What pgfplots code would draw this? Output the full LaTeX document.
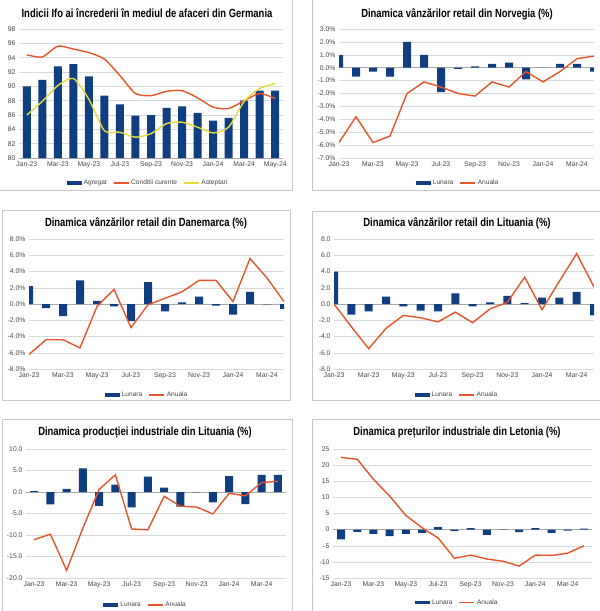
\documentclass[border=0pt]{standalone}
\usepackage{pgfplots}
\usepackage{pgfplotstable}
\usepackage{graphicx}
\usepackage{fontspec}
\setmainfont{Liberation Sans}
\pgfplotsset{compat=1.18}

\definecolor{barc}{RGB}{16,62,128}
\definecolor{orangec}{RGB}{232,84,44}
\definecolor{yellowc}{RGB}{228,220,60}
\definecolor{gridc}{RGB}{217,217,217}
\definecolor{framec}{RGB}{200,200,200}
\definecolor{tickc}{RGB}{70,70,70}
\definecolor{zeroc}{RGB}{170,170,170}

% Ifo Germania
\pgfplotstableread{
i agr cur asp
0 90.0 94.4 86.0
1 90.9 94.1 87.9
2 92.8 95.6 90.1
3 93.1 95.2 91.1
4 91.4 94.7 88.2
5 88.7 93.8 83.8
6 87.5 91.5 83.6
7 85.9 89.0 82.9
8 86.0 88.7 83.4
9 87.0 89.3 84.8
10 87.2 89.4 85.0
11 86.3 88.4 84.3
12 85.2 87.1 83.5
13 85.6 86.9 84.3
14 88.0 88.0 87.9
15 89.4 89.0 89.7
16 89.4 88.3 90.4
}\ifodata

% Norvegia
\pgfplotstableread{
i lun anu
0 1.0 -5.8
1 -0.7 -3.8
2 -0.3 -5.8
3 -0.7 -5.3
4 2.0 -2.0
5 1.0 -1.1
6 -1.9 -1.5
7 -0.1 -2.0
8 0.1 -2.2
9 0.3 -1.1
10 0.4 -1.5
11 -0.9 -0.3
12 0.0 -1.1
13 0.3 -0.3
14 0.3 0.7
15 -0.3 0.9
}\nordata

% Danemarca
\pgfplotstableread{
i lun anu
0 2.2 -6.2
1 -0.5 -4.4
2 -1.5 -4.4
3 2.9 -5.4
4 0.4 -0.3
5 -0.3 1.8
6 -2.1 -2.9
7 2.7 -0.1
8 -0.9 0.7
9 0.2 1.5
10 0.9 2.9
11 -0.2 2.9
12 -1.3 0.3
13 1.5 5.6
14 -0.05 3.2
15 -0.6 0.3
}\dandata

% Lituania retail
\pgfplotstableread{
i lun anu
0 4.0 0.0
1 -1.3 -2.8
2 -0.9 -5.5
3 0.9 -3.0
4 -0.3 -1.4
5 -0.8 -1.7
6 -0.9 -2.2
7 1.3 -1.0
8 -0.3 -2.3
9 0.2 -0.6
10 1.0 0.2
11 0.1 3.3
12 0.8 -0.7
13 0.8 2.8
14 1.5 6.2
15 -1.4 2.1
}\litrdata

% Lituania productie industriala
\pgfplotstableread{
i lun anu
0 0.2 -11.1
1 -2.9 -9.8
2 0.7 -18.2
3 5.5 -8.4
4 -3.2 0.6
5 1.7 4.0
6 -3.6 -8.6
7 3.6 -8.8
8 1.0 -1.0
9 -3.4 -3.3
10 -0.1 -3.5
11 -2.4 -5.1
12 3.7 -0.3
13 -2.8 -0.9
14 4.0 2.2
15 4.0 2.5
}\litpdata

% Letonia preturi industriale
\pgfplotstableread{
i lun anu
0 -3.0 22.4
1 -0.7 21.8
2 -1.3 15.6
3 -2.0 10.4
4 -1.3 4.4
5 -1.0 0.6
6 0.8 -2.6
7 -0.5 -8.9
8 0.5 -7.9
9 -1.6 -9.1
10 -0.1 -9.8
11 -0.8 -11.3
12 0.5 -7.9
13 -1.0 -8.0
14 -0.3 -7.3
15 0.3 -5.0
}\letdata

\pgfplotsset{
  panel/.style={
    scale only axis, anchor=south west, clip=true,
    axis line style={draw=none}, tick style={draw=none},
    ymajorgrids, grid style={draw=gridc, line width=0.5pt},
    tick label style={font=\fontsize{6.8}{8}\selectfont, text=tickc},
    /pgf/number format/assume math mode=true,
    xtick={0,2,...,14},
    xticklabels={Jan-23,Mar-23,May-23,Jul-23,Sep-23,Nov-23,Jan-24,Mar-24},
    extra y ticks={0}, extra y tick labels={},
    extra y tick style={ymajorgrids, grid style={draw=zeroc, line width=0.5pt}},
    legend columns=2,
    legend style={draw=none, fill=none, anchor=center,
      font=\fontsize{6.6}{8}\selectfont, text=tickc,
      /tikz/every even column/.append style={column sep=4pt}},
  },
  barplot/.style={ybar, bar width=8pt, fill=barc, draw=none,
    legend image code/.code={\fill[barc] (0pt,-1.6pt) rectangle (15pt,1.6pt);}},
  lineplot/.style={sharp plot, no marks, line width=1.4pt, draw=#1,
    legend image code/.code={\draw[#1, line width=1.4pt] (0pt,0pt) -- (15pt,0pt);}},
  lineplot/.default=orangec,
}

\newcommand\ptitle[3]{\node[font=\fontsize{11.8}{13}\selectfont\bfseries, text=black] at (#1,#2) {\scalebox{0.8}[1]{#3}};}

\begin{document}
\begin{tikzpicture}
\useasboundingbox (0,0) rectangle (600pt,-611pt);
\fill[white] (0,0) rectangle (600pt,-611pt);

% frames
\draw[framec, line width=0.8pt] (-2pt,2pt) rectangle (292pt,-190pt);
\draw[framec, line width=0.8pt] (312pt,2pt) rectangle (602pt,-190pt);
\draw[framec, line width=0.8pt] (2pt,-210pt) rectangle (290pt,-400pt);
\draw[framec, line width=0.8pt] (312pt,-211pt) rectangle (602pt,-400pt);
\draw[framec, line width=0.8pt] (2pt,-419pt) rectangle (292pt,-614pt);
\draw[framec, line width=0.8pt] (312pt,-419pt) rectangle (602pt,-614pt);

% 1 Germania
\ptitle{147pt}{-13pt}{Indicii Ifo ai încrederii în mediul de afaceri din Germania}
\begin{axis}[panel, at={(19pt,-158pt)}, width=264pt, height=129pt,
  xmin=-0.5, xmax=16.5, ymin=80, ymax=98, ytick={80,82,...,98},
  xtick={0,2,...,16},
  xticklabels={Jan-23,Mar-23,May-23,Jul-23,Sep-23,Nov-23,Jan-24,Mar-24,May-24},
  extra y ticks={80},
  legend columns=3, legend style={at={(0.489,-0.194)}}]
\addplot[barplot] table[x=i,y=agr] \ifodata; \addlegendentry{Agregat}
\addplot[lineplot=orangec, smooth, tension=0.4] table[x=i,y=cur] \ifodata; \addlegendentry{Conditii curente}
\addplot[lineplot=yellowc, smooth, tension=0.4] table[x=i,y=asp] \ifodata; \addlegendentry{Asteptari}
\end{axis}

% 2 Norvegia
\ptitle{457pt}{-14pt}{Dinamica vânzărilor retail din Norvegia (\%)}
\begin{axis}[panel, at={(339pt,-158pt)}, width=255pt, height=129pt,
  xmin=0, xmax=15, ymin=-7, ymax=3, ytick={-7,-6,...,3},
  yticklabel={\pgfmathprintnumber[fixed,fixed zerofill,precision=1]{\tick}\%},
  legend style={at={(0.467,-0.194)}}]
\addplot[barplot] table[x=i,y=lun] \nordata; \addlegendentry{Lunara}
\addplot[lineplot] table[x=i,y=anu] \nordata; \addlegendentry{Anuala}
\end{axis}

% 3 Danemarca
\ptitle{146pt}{-223pt}{Dinamica vânzărilor retail din Danemarca (\%)}
\begin{axis}[panel, at={(29pt,-369pt)}, width=255pt, height=130pt,
  xmin=0, xmax=15, ymin=-8, ymax=8, ytick={-8,-6,...,8},
  yticklabel={\pgfmathprintnumber[fixed,fixed zerofill,precision=1]{\tick}\%},
  legend style={at={(0.463,-0.2)}}]
\addplot[barplot] table[x=i,y=lun] \dandata; \addlegendentry{Lunara}
\addplot[lineplot] table[x=i,y=anu] \dandata; \addlegendentry{Anuala}
\end{axis}

% 4 Lituania retail
\ptitle{457pt}{-223pt}{Dinamica vânzărilor retail din Lituania (\%)}
\begin{axis}[panel, at={(334pt,-369pt)}, width=260pt, height=130pt,
  xmin=0, xmax=15, ymin=-8, ymax=8, ytick={-8,-6,...,8},
  yticklabel={\pgfmathprintnumber[fixed,fixed zerofill,precision=1]{\tick}},
  legend style={at={(0.473,-0.2)}}]
\addplot[barplot] table[x=i,y=lun] \litrdata; \addlegendentry{Lunara}
\addplot[lineplot] table[x=i,y=anu] \litrdata; \addlegendentry{Anuala}
\end{axis}

% 5 Lituania productie
\ptitle{145pt}{-433pt}{Dinamica producției industriale din Lituania (\%)}
\begin{axis}[panel, at={(26pt,-578pt)}, width=260pt, height=129pt,
  xmin=-0.5, xmax=15.5, ymin=-20, ymax=10, ytick={-20,-15,...,10},
  yticklabel={\pgfmathprintnumber[fixed,fixed zerofill,precision=1]{\tick}},
  legend style={at={(0.46,-0.21)}}]
\addplot[barplot] table[x=i,y=lun] \litpdata; \addlegendentry{Lunara}
\addplot[lineplot] table[x=i,y=anu] \litpdata; \addlegendentry{Anuala}
\end{axis}

% 6 Letonia preturi
\ptitle{457pt}{-433pt}{Dinamica prețurilor industriale din Letonia (\%)}
\begin{axis}[panel, at={(333pt,-578pt)}, width=259pt, height=129pt,
  xmin=-0.5, xmax=15.5, ymin=-15, ymax=25, ytick={-15,-10,...,25},
  legend style={at={(0.48,-0.19)}}]
\addplot[barplot] table[x=i,y=lun] \letdata; \addlegendentry{Lunara}
\addplot[lineplot] table[x=i,y=anu] \letdata; \addlegendentry{Anuala}
\end{axis}
\end{tikzpicture}
\end{document}
